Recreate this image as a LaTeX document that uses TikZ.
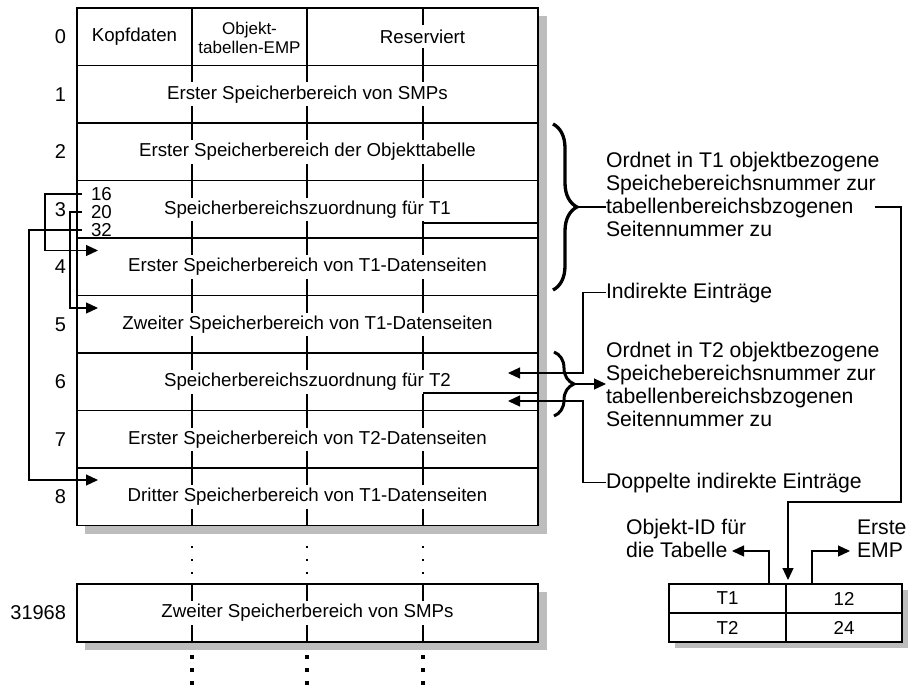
\documentclass[tikz,border=0pt]{standalone}
\usepackage{fontspec}
\setmainfont{Liberation Sans}
\usetikzlibrary{arrows.meta,decorations.pathreplacing,calc}

\begin{document}
\begin{tikzpicture}[x=1pt,y=-1pt,
  every node/.style={inner sep=0pt, outer sep=0pt},
  line/.style={line width=1.3pt},
  conn/.style={line width=1.2pt},
  arr/.style={conn,-{Triangle[length=12pt,width=11pt]}},
  shadowfill/.style={fill=black!26},
  cell/.style={font=\fontsize{18.7}{19}\selectfont},
  note/.style={font=\fontsize{21.2}{23}\selectfont, align=left},
  rownum/.style={font=\fontsize{20}{22}\selectfont, anchor=east},
  rowbox/.style={draw, line, fill=white, cell, minimum width=461pt,
                 minimum height=57.5pt, anchor=north west},
  tabcell/.style={draw, line, fill=white, cell, minimum height=29pt, anchor=north west},
  bracestroke/.style={line width=3.3pt, decorate},
  smalldot/.style={fill=black},
]
\useasboundingbox (0,0) rectangle (909,690);

% drop shadows
\fill[shadowfill] (85,16) rectangle (547,534);
\fill[shadowfill] (85,592) rectangle (547,650);
\fill[shadowfill] (675,590) rectangle (908,648);

% header row with its three fields
\node[rowbox] (r0) at (77,8) {};
\node[cell] (c0a) at (134.5,37) {Kopfdaten};
\node[cell, align=center, font=\fontsize{17}{19}\selectfont] (c0b) at (249.5,37.5) {Objekt-\\tabellen-EMP};
\node[cell] (c0c) at (422.5,37) {Reserviert};
\draw[line] (192,8) -- (192,65.5);
\draw[line] (307,8) -- (307,65.5);
\draw[line] (423,8) -- ++(0,17);
\draw[line] (423,65.5) -- ++(0,-17);
\node[rownum] (n0) at (66,37) {0};

% storage area rows
\foreach \i/\txt in {1/Erster Speicherbereich von SMPs,
                     2/Erster Speicherbereich der Objekttabelle,
                     3/Speicherbereichszuordnung für T1,
                     4/Erster Speicherbereich von T1-Datenseiten,
                     5/Zweiter Speicherbereich von T1-Datenseiten,
                     6/Speicherbereichszuordnung für T2,
                     7/Erster Speicherbereich von T2-Datenseiten,
                     8/Dritter Speicherbereich von T1-Datenseiten} {
  \node[rowbox] (r\i) at (77,{8+57.5*\i}) {\txt};
  \node[rownum] (n\i) at (66,{36.75+57.5*\i}) {\i};
  \foreach \c in {192,307,423} {
    \draw[line] (\c,{8+57.5*\i}) -- ++(0,17);
    \draw[line] (\c,{65.5+57.5*\i}) -- ++(0,-17);
  }
}

\node[rowbox, minimum height=58pt] (rlast) at (77,584) {Zweiter Speicherbereich von SMPs};
\node[rownum] (nlast) at (66,613) {31968};
\foreach \c in {192,307,423} {
  \draw[line] (\c,584) -- ++(0,17);
  \draw[line] (\c,642) -- ++(0,-17);
}

% omitted rows
\foreach \c in {192,307,423} {
  \foreach \y in {547,560,573} {
    \fill[smalldot] (\c-1.2,\y-1.2) rectangle (\c+1.2,\y+1.2);
  }
  \foreach \y in {657,670,683} {
    \fill[smalldot] (\c-2.2,\y-2.2) rectangle (\c+2.2,\y+2.2);
  }
}

% entries of the space map for T1
\node[cell, anchor=west] (l16) at (91,194) {16};
\node[cell, anchor=west] (l20) at (91,212) {20};
\node[cell, anchor=west] (l32) at (91,230) {32};
\coordinate (s16) at (82,194);
\coordinate (s20) at (82,212);
\coordinate (s32) at (82,230);
\coordinate (e16) at (98,250.5);
\coordinate (e20) at (98,308);
\coordinate (e32) at (98,480);
\draw[arr] (s16) -- (45,194) |- (e16);
\draw[arr] (s20) -- (70,212) |- (e20);
\draw[arr] (s32) -- (29,230) |- (e32);

% pointer lines inside the space map rows
\draw[conn] (423,223) -- (r3.east |- 0,223);
\draw[conn] (423,393) -- (r6.east |- 0,393);

% description of the T1 space map
\draw[bracestroke, decoration={brace, amplitude=24pt}] (553,124) -- (553,290);
\coordinate (b1) at (577,207);
\node[note, anchor=north west] (d1) at (606,150.9)
  {\strut Ordnet in T1 objektbezogene\\Speichebereichsnummer zur\\tabellenbereichsbzogenen\\Seitennummer zu};
\draw[conn] (b1) -- (b1 -| d1.west);

% description of the T2 space map
\draw[bracestroke, line width=3pt, decoration={brace, amplitude=20pt}] (554,352) -- (554,416);
\coordinate (b2) at (575,384);
\node[note, anchor=north west] (d2) at (606,340.9)
  {\strut Ordnet in T2 objektbezogene\\Speichebereichsnummer zur\\tabellenbereichsbzogenen\\Seitennummer zu};
\draw[arr] (b2) -- (b2 -| d2.west);

% indirect entries
\node[note, anchor=base west] (ind) at (606,298) {Indirekte Einträge};
\node[note, anchor=base west] (dop) at (606,488) {Doppelte indirekte Einträge};
\coordinate (a6a) at (508,373);
\coordinate (a6b) at (508,401);
\draw[arr] (ind.west) -- ++(-23,0) |- (a6a);
\draw[arr] (dop.west) -- ++(-23,0) |- (a6b);

% object table
\node[tabcell, minimum width=117pt] (t1a) at (669,584) {T1};
\node[tabcell, minimum width=116pt] (t1b) at (786,584) {12};
\node[tabcell, minimum width=117pt] (t2a) at (669,613) {T2};
\node[tabcell, minimum width=116pt] (t2b) at (786,613) {24};

\coordinate (k1) at (875,207);
\draw[arr] (k1) -- (901,207) |- ($(t1b.north west)+(2,-82)$) -- ($(t1b.north west)+(2,-4)$);

\node[note, anchor=north west] (oid) at (626,517.9) {\strut Objekt-ID für\\die Tabelle};
\node[note, anchor=north west] (emp) at (857,517.9) {\strut Erste\\EMP};
\draw[arr] ($(t1a.north east)+(-17,0)$) -- ++(0,-33) -- (732,551);
\draw[arr] ($(t1b.north west)+(26,0)$) -- ++(0,-33) -- (850,551);

\end{tikzpicture}
\end{document}
